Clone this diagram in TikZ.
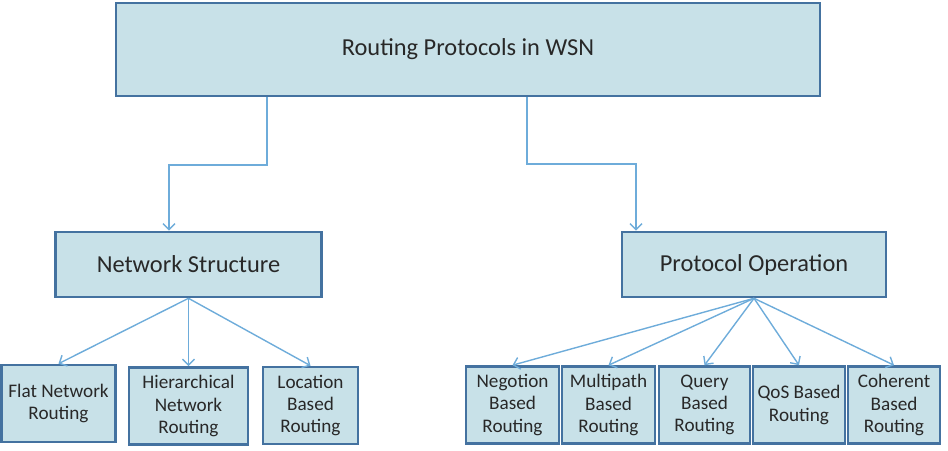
\documentclass[tikz,border=0pt]{standalone}
\usepackage{fontspec}
\setmainfont{Carlito}
\usepackage{tikz}
\usetikzlibrary{positioning,arrows.meta}
\usepackage{xcolor}
\definecolor{boxfill}{RGB}{200,225,232}
\definecolor{boxline}{RGB}{68,114,160}
\definecolor{linkcol}{RGB}{110,172,218}
\definecolor{txtcol}{RGB}{40,40,40}

\begin{document}
\begin{tikzpicture}[
x=0.5pt, y=-0.5pt,
>={Straight Barb[length=3pt,width=6pt]},
box/.style={draw=boxline, line width=1.3pt, fill=boxfill, text=txtcol, inner sep=0pt, align=center},
root/.style={box, minimum width=352pt, minimum height=46.5pt, font=\fontsize{12.2}{14}\selectfont},
cat/.style={box, minimum width=133pt, minimum height=32.5pt, font=\fontsize{12.2}{14}\selectfont},
leaf/.style={box, minimum height=38.5pt, font=\fontsize{9.6}{11.2}\selectfont},
link/.style={draw=linkcol, line width=0.7pt}
]
\useasboundingbox (0,0) rectangle (948,450);
\node[root] (wsn) at (468,49.5) {Routing Protocols in WSN};
\node[cat] (ns) at (188.5,264.5) {Network Structure};
\node[cat, minimum width=132pt] (po) at (754,264.5) {Protocol Operation};
% network structure leaves
\node[leaf, minimum width=57pt] (flat) at (58.5,403.5) {Flat Network\\Routing};
\node[leaf, minimum width=59.5pt] (hier) at (188.5,406) {Hierarchical\\Network\\Routing};
\node[leaf, minimum width=47.5pt] (loc) at (310.5,405.5) {Location\\Based\\Routing};
% protocol operation leaves
\node[leaf, minimum width=46.5pt] (neg) at (512.5,405) {Negotion\\Based\\Routing};
\node[leaf, minimum width=46.5pt] (multi) at (608.5,405) {Multipath\\Based\\Routing};
\node[leaf, minimum width=45.5pt] (query) at (704.5,405) {Query\\Based\\Routing};
\node[leaf, minimum width=46pt] (qos) at (799,405) {QoS Based\\Routing};
\node[leaf, minimum width=46pt] (coh) at (894,405) {Coherent\\Based\\Routing};
% elbows
\coordinate (lk1) at (267,165);
\coordinate (lk2) at (169,165);
\coordinate (rk1) at (527,164);
\coordinate (rk2) at (636,164);
\draw[link,->] (wsn.south -| lk1) -- (lk1) -- (lk2) -- (lk2 |- ns.north);
\draw[link,->] (wsn.south -| rk1) -- (rk1) -- (rk2) -- (rk2 |- po.north);
\foreach \n in {flat,hier,loc}
  \draw[link,->] (ns.south) -- (\n.north);
\foreach \n in {neg,multi,query,qos,coh}
  \draw[link,->] (po.south) -- (\n.north);
\end{tikzpicture}
\end{document}
